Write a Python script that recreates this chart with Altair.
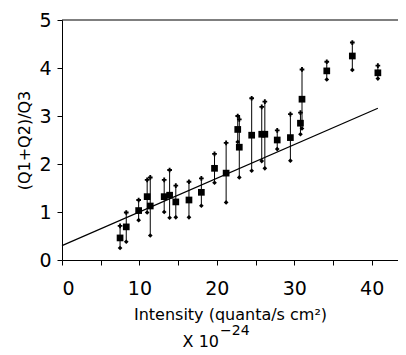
import altair as alt
import pandas as pd

# Data
xs = [7.5, 8.3, 9.9, 11.0, 11.4, 13.2, 13.9, 14.7, 16.4, 18.0, 19.7, 21.2,
      22.7, 22.9, 24.5, 25.8, 26.2, 27.8, 29.5, 30.8, 31.0, 34.2, 37.5, 40.8]
ys = [0.46, 0.69, 1.03, 1.32, 1.125, 1.32, 1.35, 1.21, 1.25, 1.41, 1.91, 1.81,
      2.72, 2.35, 2.60, 2.62, 2.62, 2.50, 2.55, 2.85, 3.35, 3.94, 4.25, 3.90]
hi = [0.71, 0.99, 1.25, 1.67, 1.72, 1.67, 1.875, 1.55, 1.63, 1.70, 2.21, 2.44,
      3.00, 2.93, 3.37, 3.19, 3.30, 2.70, 3.04, 3.07, 3.97, 4.13, 4.53, 4.05]
lo = [0.25, 0.38, 0.83, 0.99, 0.51, 1.00, 0.88, 0.89, 0.89, 1.13, 1.61, 1.20,
      2.46, 1.72, 1.86, 2.06, 1.91, 2.31, 2.07, 2.62, 2.74, 3.76, 3.96, 3.78]

fit_x = [0.0, 40.8]
fit_y = [0.30, 3.16]

x_ticks = [0, 5, 10, 15, 20, 25, 30, 35, 40]
y_ticks = [0, 1, 2, 3, 4, 5]

x_title = "Intensity (quanta/s cm²)"
scale_base = "X 10"
scale_exp = "−24"

df = pd.DataFrame({"x": xs, "y": ys, "hi": hi, "lo": lo})
fit = pd.DataFrame({"x": fit_x, "y": fit_y})

FONT = "DejaVu Sans"

xscale = alt.Scale(domain=[0, 43.4], nice=False, zero=False)
yscale = alt.Scale(domain=[0, 5], nice=False)

xaxis = alt.Axis(
    values=x_ticks,
    labelExpr="datum.value % 10 == 0 ? datum.label : ''",
    title=x_title,
    grid=False, tickSize=5, labelPadding=14, labelFontSize=19,
    labelFont=FONT, titleFont=FONT, titleFontSize=16, titleFontWeight="normal",
    titlePadding=8,
    domainColor="black", tickColor="black", labelColor="black", titleColor="black",
)
yaxis = alt.Axis(
    values=y_ticks, title="(Q1+Q2)/Q3",
    grid=False, tickSize=5, labelPadding=6, labelFontSize=19,
    labelFont=FONT, titleFont=FONT, titleFontSize=16, titleFontWeight="normal",
    titlePadding=6,
    domainColor="black", tickColor="black", labelColor="black", titleColor="black",
)

base = alt.Chart(df)

bars = base.mark_rule(color="black", strokeWidth=1).encode(
    x=alt.X("x:Q", scale=xscale, axis=xaxis),
    y=alt.Y("lo:Q", scale=yscale, axis=yaxis),
    y2="hi:Q",
)
centers = base.mark_point(shape="square", filled=True, color="black", size=45, opacity=1).encode(
    x="x:Q", y="y:Q")
lows = base.mark_point(shape="diamond", filled=True, color="black", size=22, opacity=1).encode(
    x="x:Q", y="lo:Q")
highs = base.mark_point(shape="cross", filled=True, color="black", size=22, opacity=1).encode(
    x="x:Q", y="hi:Q")

line = alt.Chart(fit).mark_line(color="black", strokeWidth=1.2).encode(
    x="x:Q", y="y:Q")

top = alt.Chart(pd.DataFrame({"v": [5]})).mark_rule(color="black", strokeWidth=1.2).encode(
    y="v:Q")

lab = pd.DataFrame({"t": [scale_base]})
exp = pd.DataFrame({"t": [scale_exp]})
mult = alt.Chart(lab).mark_text(
    font=FONT, fontSize=16, align="right", baseline="alphabetic", color="black"
).encode(text="t:N", x=alt.value(157), y=alt.value(327))
mult_exp = alt.Chart(exp).mark_text(
    font=FONT, fontSize=14, align="left", baseline="alphabetic", color="black"
).encode(text="t:N", x=alt.value(158), y=alt.value(315))

chart = alt.layer(line, bars, lows, highs, centers, top, mult, mult_exp).properties(
    width=336, height=240,
    padding={"left": 54, "top": 12, "right": 0, "bottom": 95},
    autosize=alt.AutoSizeParams(type="none"),
).configure_view(stroke=None)

chart.save("out.html", embed_options={"renderer": "svg", "actions": False})
